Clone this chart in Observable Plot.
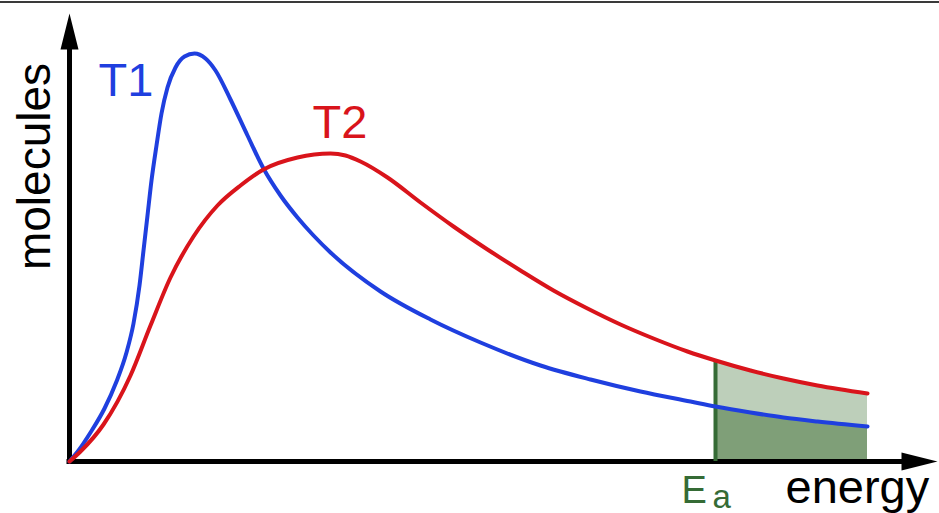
<!DOCTYPE html>
<html>
<head>
<meta charset="utf-8">
<script src="https://cdn.jsdelivr.net/npm/d3@7"></script>
<script src="https://cdn.jsdelivr.net/npm/@observablehq/plot@0.6"></script>
<style>
  html, body { margin: 0; padding: 0; background: #fff; }
  #chart { margin-top: 1px; border-top: 2px solid #3a3a3a; width: 939px; }
  svg { display: block; }
</style>
</head>
<body>
<div id="chart"></div>
<script>
// Energy (x) and number of molecules (y), arbitrary units
const blueX = [0, 0.9, 2.1, 3.5, 4.7, 5.7, 6.4, 7.0, 7.4, 7.8, 8.2, 8.7, 9.2, 9.8, 10.6, 11.5, 12.5, 13.6, 14.6, 16.1, 17.8, 19.4, 21.1, 22.8, 24.4, 26.1, 31.1, 36.1, 41.1, 47.1, 52.1, 57.1, 62.1];
const blueY = [0, 1.1, 2.9, 5.3, 8.0, 10.9, 13.8, 17.6, 21.1, 24.6, 28.1, 31.6, 34.8, 37.4, 39.4, 40.5, 40.8, 40.3, 39.1, 36.2, 32.6, 29.3, 26.6, 24.4, 22.6, 20.9, 17.0, 14.2, 11.9, 9.6, 8.2, 7.0, 6.0];
const redX = [0, 1.1, 3.4, 6.1, 8.1, 10.1, 12.4, 14.8, 17.1, 19.4, 22.8, 26.1, 27.6, 29.1, 31.8, 35.1, 38.4, 41.8, 45.1, 48.4, 51.8, 55.1, 58.4, 61.8];
const redY = [0, 1.0, 3.7, 8.6, 13.6, 18.4, 22.5, 25.6, 27.6, 29.2, 30.4, 30.8, 30.6, 30.0, 28.4, 25.9, 23.5, 21.2, 19.1, 17.1, 15.3, 13.7, 12.3, 11.0];
// Tail beyond the activation energy Ea (shared energies)
const tailX = [64.6, 68.1, 71.4, 74.8, 79.8];
const tailBlue = [5.5, 4.9, 4.4, 4.0, 3.5];
const tailRed = [10.1, 9.1, 8.3, 7.6, 6.8];
const xMax = 86.8, yMax = 44.8;
const labels = { y: "molecules", x: "energy", t1: "T1", t2: "T2", ea: "E", eaSub: "a" };

const blue = [...blueX.map((x, i) => ({x, y: blueY[i]})), ...tailX.map((x, i) => ({x, y: tailBlue[i]}))];
const red = [...redX.map((x, i) => ({x, y: redY[i]})), ...tailX.map((x, i) => ({x, y: tailRed[i]}))];
const tail = tailX.map((x, i) => ({x, b: tailBlue[i], r: tailRed[i]}));

const BLUE = "#1f3fdf", RED = "#d9141b", GREEN = "#356b35";
const CURVE = "monotone-x";
const headUp = {draw(ctx) { ctx.moveTo(0, 0); ctx.lineTo(-9, 36); ctx.lineTo(9, 36); ctx.closePath(); }};
const headRight = {draw(ctx) { ctx.moveTo(0, 0); ctx.lineTo(-36, -9); ctx.lineTo(-36, 9); ctx.closePath(); }};
const font = "'Liberation Sans', Arial, sans-serif";

const chart = Plot.plot({
  width: 939,
  height: 510,
  marginLeft: 69,
  marginRight: 2,
  marginTop: 10,
  marginBottom: 52,
  style: { fontFamily: font, background: "white", overflow: "visible" },
  x: { domain: [0, xMax], axis: null },
  y: { domain: [0, yMax], axis: null },
  marks: [
    Plot.areaY(tail, {x: "x", y1: 0, y2: "b", curve: CURVE, fill: "#7f9f78"}),
    Plot.areaY(tail, {x: "x", y1: "b", y2: "r", curve: CURVE, fill: "#bdcfba"}),
    Plot.ruleY([0], {x1: -0.25, x2: xMax - 2, stroke: "black", strokeWidth: 5}),
    Plot.ruleX([0], {y1: -0.25, y2: yMax - 2, stroke: "black", strokeWidth: 5}),
    Plot.dot([{x: xMax, y: 0}], {x: "x", y: "y", symbol: headRight, fill: "black"}),
    Plot.dot([{x: 0, y: yMax}], {x: "x", y: "y", symbol: headUp, fill: "black"}),
    Plot.ruleX([tailX[0]], {y1: 0, y2: tailRed[0], stroke: GREEN, strokeWidth: 4}),
    Plot.line(blue, {x: "x", y: "y", curve: CURVE, stroke: BLUE, strokeWidth: 4}),
    Plot.line(red, {x: "x", y: "y", curve: CURVE, stroke: RED, strokeWidth: 4}),
    Plot.text([labels.t1], {x: 2.9, y: 36.6, text: d => d, fill: BLUE, fontSize: 47, textAnchor: "start", lineAnchor: "bottom"}),
    Plot.text([labels.t2], {x: 24.3, y: 32.4, text: d => d, fill: RED, fontSize: 47, textAnchor: "start", lineAnchor: "bottom"}),
    Plot.text([labels.y], {x: -2.0, y: 29.5, text: d => d, fill: "black", fontSize: 46, rotate: -90, textAnchor: "middle", lineAnchor: "bottom"}),
    Plot.text([labels.x], {x: 71.6, y: -4.1, text: d => d, fill: "black", fontSize: 47, textAnchor: "start", lineAnchor: "bottom"}),
    Plot.text([labels.ea], {x: 61.2, y: -4.1, text: d => d, fill: GREEN, fontSize: 38, textAnchor: "start", lineAnchor: "bottom"}),
    Plot.text([labels.eaSub], {x: 64.3, y: -4.6, text: d => d, fill: GREEN, fontSize: 33, textAnchor: "start", lineAnchor: "bottom"})
  ]
});
document.getElementById("chart").appendChild(chart);
</script>
</body>
</html>
